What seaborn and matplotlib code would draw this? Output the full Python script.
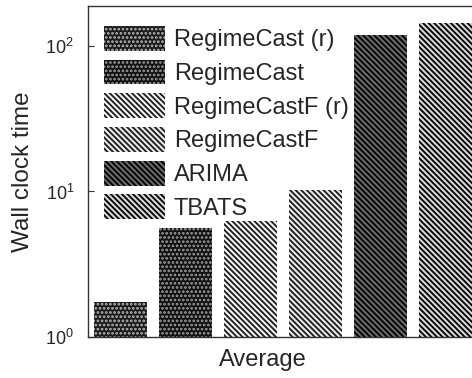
import matplotlib
matplotlib.use("Agg")
import matplotlib.pyplot as plt
import seaborn as sns
import pandas as pd
from matplotlib.ticker import LogLocator, NullLocator, LogFormatterSciNotation

# Wall clock time per method (averaged over datasets)
methods = ["RegimeCast (r)", "RegimeCast", "RegimeCastF (r)", "RegimeCastF", "ARIMA", "TBATS"]
times = [1.73, 5.6, 6.3, 10.2, 120, 145]
group = ["Average"] * len(methods)

face_colors = ["#1a1a1a", "#101010", "#f2f2f2", "#e8e8e8", "#6a6a6a", "#d6d6d6"]
hatch_colors = ["#b8b8b8", "#a0a0a0", "#1a1a1a", "#1a1a1a", "#000000", "#000000"]
diag = "\\" * 6
hatches = ["....", "....", diag, diag, diag, diag]

df = pd.DataFrame({"group": group, "method": methods, "time": times})

sns.set_style("white")
plt.rcParams["font.family"] = ["Liberation Sans", "DejaVu Sans"]
plt.rcParams["hatch.linewidth"] = 1.3

fig = plt.figure(figsize=(4.72, 3.78), dpi=100)
ax = fig.add_axes([88 / 472, (378 - 336.5) / 378, 390 / 472, (336.5 - 6) / 378])

sns.barplot(data=df, x="group", y="time", hue="method", hue_order=methods,
            palette=face_colors, width=0.8, gap=0.18, ax=ax, legend=False)
ax.set_yscale("log")

handles = []
for cont, fc, hc, h in zip(ax.containers, face_colors, hatch_colors, hatches):
    for p in cont.patches:
        p.set_facecolor(fc)
        p.set_edgecolor(hc)
        p.set_hatch(h)
        p.set_linewidth(0)
    handles.append(cont.patches[0])

ax.set_xlim(-0.4, 0.4)
ax.set_ylim(1, 190)
ax.yaxis.set_major_locator(LogLocator(base=10, numticks=5))
ax.yaxis.set_major_formatter(LogFormatterSciNotation())
ax.yaxis.set_minor_locator(NullLocator())
ax.set_xticks([])
ax.tick_params(axis="y", which="major", direction="in", length=4, width=0.8,
               labelsize=13, pad=10, left=True, color="#333333")

for side in ["top", "left", "bottom", "right"]:
    ax.spines[side].set_visible(True)
    ax.spines[side].set_color("#333333")
    ax.spines[side].set_linewidth(1.0)
    ax.spines[side].set_linestyle((0, (1, 1)))

ax.set_ylabel("Wall clock time", fontsize=17.5, labelpad=8)
ax.set_xlabel("Average", fontsize=17)
ax.xaxis.set_label_coords(0.449, -0.037, transform=ax.transAxes)
ax.xaxis.label.set_verticalalignment("top")

ax.legend(handles, methods, loc="upper left", bbox_to_anchor=(0.041, 0.94),
          frameon=False, fontsize=17, handlelength=2.6, handleheight=1.25,
          handletextpad=0.35, labelspacing=0.35, borderpad=0, borderaxespad=0)

fig.savefig("out.png", dpi=100)
